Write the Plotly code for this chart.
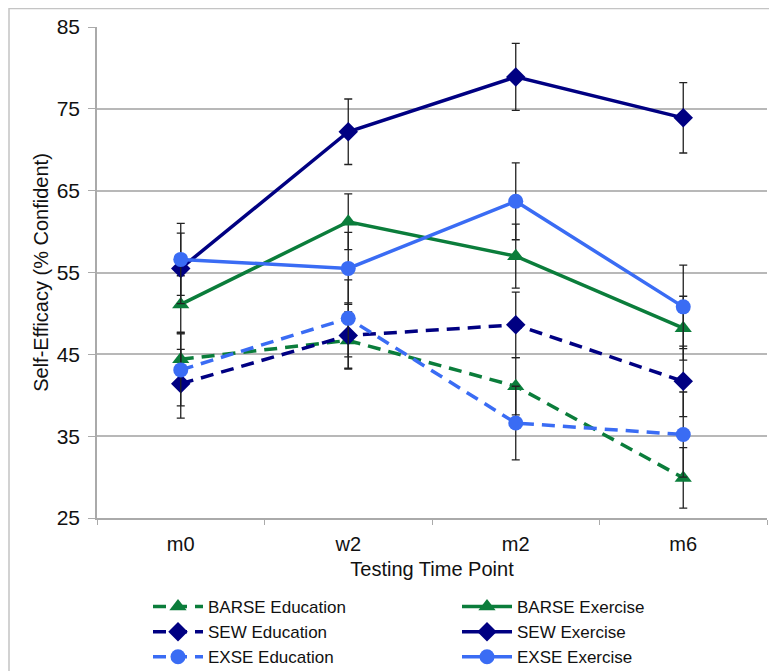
import plotly.graph_objects as go

time_points = ["m0", "w2", "m2", "m6"]

barse_edu = [44.4, 46.7, 41.1, 29.9]
barse_edu_err = [3.3, 3.5, 3.5, 3.7]
barse_ex = [51.1, 61.2, 57.0, 48.2]
barse_ex_err = [3.5, 3.4, 3.9, 3.9]
sew_edu = [41.4, 47.3, 48.6, 41.7]
sew_edu_err = [4.2, 4.0, 4.0, 4.3]
sew_ex = [55.5, 72.2, 78.9, 73.9]
sew_ex_err = [4.3, 4.0, 4.1, 4.3]
exse_edu = [43.1, 49.4, 36.6, 35.2]
exse_edu_err = [4.4, 4.7, 4.5, 5.2]
exse_ex = [56.6, 55.5, 63.7, 50.8]
exse_ex_err = [4.4, 4.4, 4.7, 5.1]

GREEN = "#0b7d3b"
NAVY = "#000082"
BLUE = "#3a6cf4"
DASH = "13px,8px"

series = [
    ("BARSE Education", barse_edu, barse_edu_err, GREEN, "triangle-up", 15, DASH),
    ("BARSE Exercise", barse_ex, barse_ex_err, GREEN, "triangle-up", 15, "solid"),
    ("SEW Education", sew_edu, sew_edu_err, NAVY, "diamond", 15, DASH),
    ("SEW Exercise", sew_ex, sew_ex_err, NAVY, "diamond", 15, "solid"),
    ("EXSE Education", exse_edu, exse_edu_err, BLUE, "circle", 15, DASH),
    ("EXSE Exercise", exse_ex, exse_ex_err, BLUE, "circle", 15, "solid"),
]

fig = go.Figure()
for name, vals, errs, color, sym, size, dash in series:
    fig.add_trace(go.Scatter(
        x=time_points, y=vals, name=name, mode="lines+markers",
        line=dict(color=color, width=3.5, dash=dash),
        marker=dict(symbol=sym, size=size, color=color),
        error_y=dict(type="data", array=errs, symmetric=True,
                     color="#222222", thickness=1.3, width=4),
    ))

FONT = "Liberation Sans, Arial, sans-serif"
OFF = 8  # page body margin
W, H = 777 - OFF, 671 - OFF
L, T = 97 - OFF, 27 - OFF
R = W - (767 - OFF)
B = H - (518 - OFF)
pw = W - L - R
ph = H - T - B

def px_x(p):
    return (p - OFF - L) / pw

def px_y(p):
    return (H - B - (p - OFF)) / ph

fig.update_layout(
    width=W, height=H, autosize=False,
    margin=dict(l=L, r=R, t=T, b=B, pad=0, autoexpand=False),
    paper_bgcolor="white", plot_bgcolor="white",
    font=dict(family=FONT, size=20, color="#111111"),
    showlegend=True,
    legend=dict(
        orientation="h", x=px_x(148), y=px_y(589), xanchor="left", yanchor="top",
        entrywidth=244, entrywidthmode="pixels", itemwidth=50,
        bgcolor="rgba(0,0,0,0)",
        font=dict(family=FONT, size=17, color="#111111"),
        tracegroupgap=0, traceorder="normal",
    ),
    xaxis=dict(
        type="category", range=[-0.5, 3.5],
        showgrid=False, showline=True, linecolor="#aaaaaa", linewidth=1.5,
        ticks="outside", tickson="boundaries", ticklen=5, tickcolor="#aaaaaa",
        tickwidth=1.2, ticklabelstandoff=7,
        tickfont=dict(family=FONT, size=20, color="#111111"),
        title=dict(text="Testing Time Point", standoff=8,
                   font=dict(family=FONT, size=20, color="#111111")),
        zeroline=False,
    ),
    yaxis=dict(
        range=[25, 85], tick0=25, dtick=10,
        showgrid=True, gridcolor="#b8b8b8", gridwidth=1.5,
        showline=True, linecolor="#aaaaaa", linewidth=1.5,
        ticks="outside", ticklen=7, tickcolor="#aaaaaa", tickwidth=1.2,
        ticklabelstandoff=4,
        tickfont=dict(family=FONT, size=21, color="#111111"),
        title=dict(text="Self-Efficacy (% Confident)", standoff=3,
                   font=dict(family=FONT, size=20, color="#111111")),
        zeroline=False,
    ),
    shapes=[dict(
        type="rect", xref="paper", yref="paper",
        x0=px_x(9), x1=px_x(800), y0=px_y(700), y1=px_y(8.5),
        line=dict(color="#c4c4c4", width=1.5), fillcolor="rgba(0,0,0,0)",
        layer="below",
    )],
)

fig.write_html("out.html")
